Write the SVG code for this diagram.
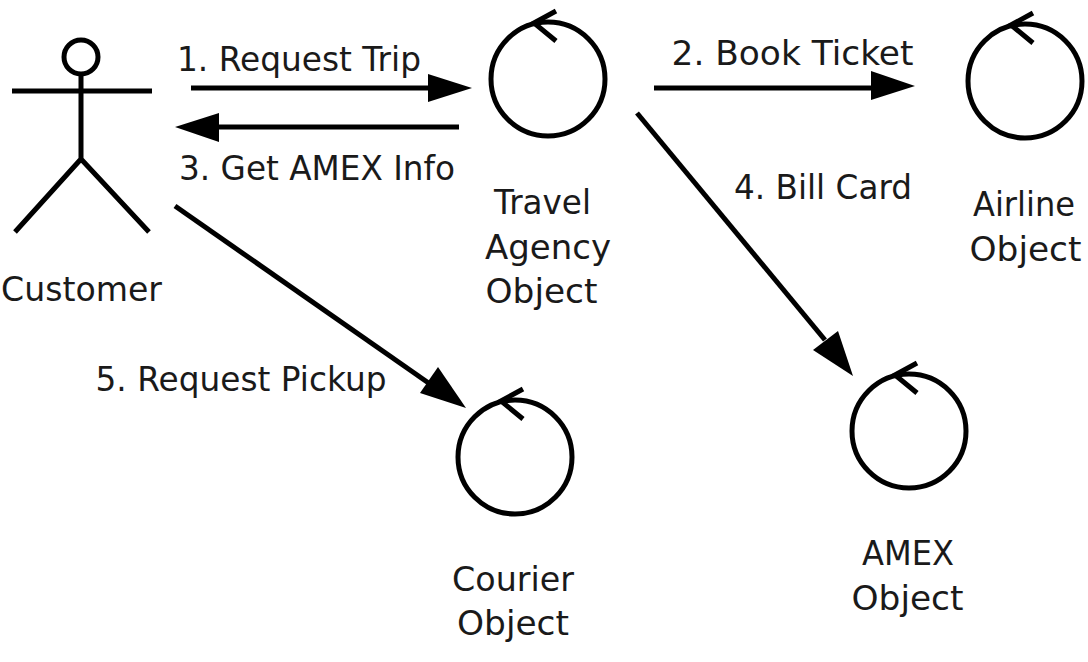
<svg xmlns="http://www.w3.org/2000/svg" width="1088" height="662" viewBox="0 0 1088 662">
<style>
text{font-family:"DejaVu Sans",sans-serif;font-size:33px;fill:#1a1a1a;text-anchor:middle}
.o{fill:none;stroke:#000;stroke-width:5}
.c{fill:none;stroke:#000;stroke-width:5}
.h{fill:#000;stroke:none}
</style>
<defs>
<g id="obj"><circle class="o" cx="0" cy="0" r="57"/><path class="o" d="M8 -68 L-14 -56 L8 -38"/></g>
</defs>
<rect width="1088" height="662" fill="#fff"/>
<g id="connectors">
<path class="c" d="M191 88H430"/><polygon class="h" points="472,88 428,74 428,102"/>
<path class="c" d="M459 127H215"/><polygon class="h" points="175,127 219,113 219,142"/>
<path class="c" d="M654 88H875"/><polygon class="h" points="915,86 871,71 871,100"/>
<path class="c" d="M637 113L825 340"/><polygon class="h" points="853,376 813,350 838,331"/>
<path class="c" d="M175 206L430 384"/><polygon class="h" points="466,408 420,393 438,367"/>
</g>
<g id="labels">
<text x="299" y="71" textLength="244" lengthAdjust="spacingAndGlyphs">1. Request Trip</text>
<text x="792.500" y="65" textLength="242" lengthAdjust="spacingAndGlyphs">2. Book Ticket</text>
<text x="317" y="180" textLength="276" lengthAdjust="spacingAndGlyphs">3. Get AMEX Info</text>
<text x="823" y="199" textLength="178" lengthAdjust="spacingAndGlyphs">4. Bill Card</text>
<text x="241" y="391" textLength="291" lengthAdjust="spacingAndGlyphs">5. Request Pickup</text>
</g>
<g id="customer">
<circle class="o" cx="81" cy="57" r="17"/>
<path class="o" d="M12 91H152M81 74V159M81 159L15 232M81 159L149 232"/>
<text x="81.500" y="301" textLength="161" lengthAdjust="spacingAndGlyphs">Customer</text>
</g>
<g id="travel"><use href="#obj" x="548" y="79"/><text x="542.500" y="214" textLength="97" lengthAdjust="spacingAndGlyphs">Travel</text><text x="548" y="259" textLength="126" lengthAdjust="spacingAndGlyphs">Agency</text><text x="541.500" y="303" textLength="112" lengthAdjust="spacingAndGlyphs">Object</text></g>
<g id="airline"><use href="#obj" x="1025" y="81"/><text x="1024" y="216" textLength="102" lengthAdjust="spacingAndGlyphs">Airline</text><text x="1025.500" y="261" textLength="112" lengthAdjust="spacingAndGlyphs">Object</text></g>
<g id="amex"><use href="#obj" x="909" y="431"/><text x="908" y="565" textLength="92" lengthAdjust="spacingAndGlyphs">AMEX</text><text x="907.500" y="610" textLength="112" lengthAdjust="spacingAndGlyphs">Object</text></g>
<g id="courier"><use href="#obj" x="515" y="457"/><text x="513" y="591" textLength="122" lengthAdjust="spacingAndGlyphs">Courier</text><text x="513" y="635" textLength="112" lengthAdjust="spacingAndGlyphs">Object</text></g>
</svg>
